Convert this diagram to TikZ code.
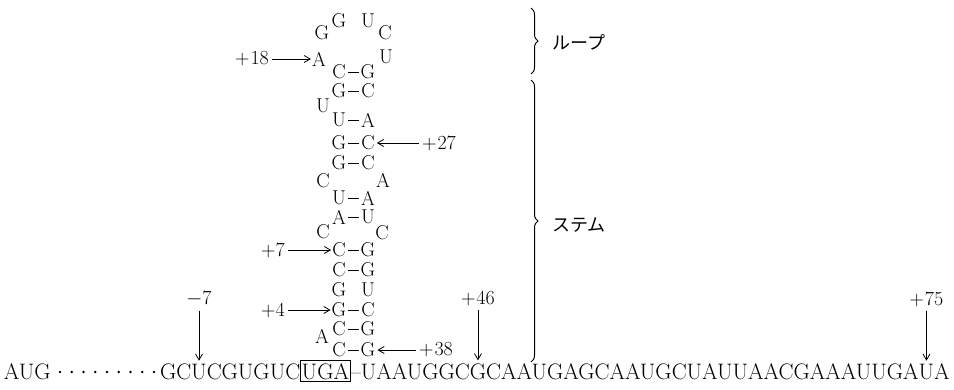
\documentclass[tikz,border=0pt]{standalone}
\usepackage{fontspec}
\newfontfamily\jpfont{Noto Sans CJK JP}
\usetikzlibrary{arrows.meta,decorations.pathreplacing}

\begin{document}
\begin{tikzpicture}[x=1pt,y=-1pt,
  nt/.style={inner sep=0pt, font=\fontsize{20}{20}\selectfont},
  sq/.style={inner sep=0pt, outer sep=0pt, anchor=base west, font=\fontsize{22.4}{22.4}\selectfont},
  num/.style={inner sep=0pt, font=\fontsize{20}{20}\selectfont},
  pair/.style={line width=0.9pt, shorten <=2pt, shorten >=2pt},
  pointer/.style={line width=0.8pt, -{Straight Barb[length=6pt,width=7pt]}},
  brc/.style={decorate, decoration={brace, amplitude=7pt}, line width=1pt},
  lbl/.style={inner sep=0pt, font=\jpfont\fontsize{18}{18}\selectfont}]
\useasboundingbox (0,0) rectangle (954,390);

% ---- hairpin loop ----
\node[nt] (gL) at (322,33) {G};
\node[nt] (gT) at (339,21) {G};
\node[nt] (uT) at (368,21) {U};
\node[nt] (cR) at (385,33) {C};
\node[nt] (uR) at (386,57) {U};
\node[nt] (aL) at (319,59) {A};

% ---- stem: base pairs (left strand x=339, right strand x=368) ----
\foreach \nm/\y/\a/\b in {p1/72/C/G, p2/91/G/C, p3/120/U/A, p4/143/G/C, p5/163/G/C,
                          p6/198/U/A, p7/217/A/U, p8/250/C/G, p9/270/C/G,
                          p11/310/G/C, p12/329/C/G, p13/350/C/G}{
  \node[nt] (\nm l) at (339,\y) {\a};
  \node[nt] (\nm r) at (368,\y) {\b};
  \draw[pair] (\nm l) -- (\nm r);
}
% G.U wobble, no dash
\node[nt] (p10l) at (339,290) {G};
\node[nt] (p10r) at (368,290) {U};

% bulges and internal loops
\node[nt] (bU) at (323,106) {U};
\node[nt] (iC) at (323,181) {C};
\node[nt] (iA) at (383,180) {A};
\node[nt] (jC) at (323,232) {C};
\node[nt] (jC2) at (382,233) {C};
\node[nt] (bA) at (322,336) {A};

% ---- position labels on the hairpin ----
\node[num] (n18) at (252,59) {+\kern1pt18};
\draw[pointer, shorten <=3pt, shorten >=1pt] (n18) -- (aL);
\node[num] (n27) at (439,143) {+\kern1pt27};
\draw[pointer, shorten <=3pt, shorten >=2pt] (n27) -- (p4r);
\node[num] (n7) at (273,250) {+7};
\draw[pointer, shorten <=3pt, shorten >=1pt] (n7) -- (p8l);
\node[num] (n4) at (273,310) {+4};
\draw[pointer, shorten <=3pt, shorten >=1pt] (n4) -- (p11l);
\node[num] (n38) at (436,350) {+\kern1pt38};
\draw[pointer, shorten <=3pt, shorten >=2pt] (n38) -- (p13r);

% ---- linear sequence ----
\node[sq] (s1) at (4,379) {AUG};
\foreach \i in {0,...,8}
  \fill (60+11.75*\i,372) circle (1.4pt);
\node[sq] (s2) at (160,379) {GC};
\node[sq] (t7) at (s2.base east) {U};
\node[sq] (s3) at (t7.base east) {CGUGUC};
\node[sq, draw, line width=1.1pt, inner xsep=1.5pt, inner ysep=2.5pt] (stop) at (s3.base east) {UGA};
\node[sq] (s4) at (stop.base east) {–UAAUGGC};
\node[sq] (t46) at (s4.base east) {G};
\node[sq] (s5) at (t46.base east) {CAAUGAGCAAUGCUAUUAACGAAAUUGA};
\node[sq] (t75) at (s5.base east) {U};
\node[sq] (s6) at (t75.base east) {A};

% ---- position labels on the sequence ----
\node[num, anchor=south] (m7) at ([yshift=57pt]t7.north) {\(-\)7};
\draw[pointer, shorten <=4pt, shorten >=3pt] (m7) -- (t7);
\node[num, anchor=south] (m46) at ([yshift=57pt]t46.north) {+\kern1pt46};
\draw[pointer, shorten <=4pt, shorten >=3pt] (m46) -- (t46);
\node[num, anchor=south] (m75) at ([yshift=57pt]t75.north) {+\kern1pt75};
\draw[pointer, shorten <=4pt, shorten >=3pt] (m75) -- (t75);

% ---- braces ----
\coordinate (loopTop) at (531,8);
\coordinate (loopBot) at (531,74);
\draw[brc] (loopTop) -- (loopBot);
\node[lbl, anchor=west] (loopLbl) at (552,42) {ループ};
\coordinate (stemTop) at (531,80);
\coordinate (stemBot) at (531,362);
\draw[brc] (stemTop) -- (stemBot);
\node[lbl, anchor=west] (stemLbl) at (552,225) {ステム};
\end{tikzpicture}
\end{document}
